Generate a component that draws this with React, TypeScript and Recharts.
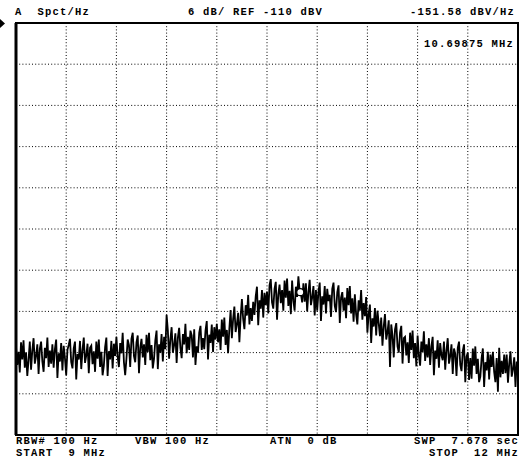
import { LineChart, Line, XAxis, YAxis, CartesianGrid, ReferenceArea, ReferenceLine, ReferenceDot } from 'recharts';

// sweep 9 MHz .. 12 MHz, 401 points, values in dBV/Hz
const startMHz = 9;
const stopMHz = 12;

const traceDb: number[] = [
  -157.1, -159.8, -157.9, -160.9, -156.5, -159.0, -156.2, -160.2, -158.0, -161.4,
  -159.1, -156.4, -160.5, -157.7, -155.9, -159.6, -158.5, -156.8, -161.1, -157.4,
  -156.4, -159.3, -160.8, -157.3, -158.8, -155.8, -160.1, -157.7, -159.6, -156.8,
  -160.2, -157.5, -156.1, -161.7, -158.1, -159.3, -156.6, -160.6, -157.0, -158.8,
  -161.3, -157.6, -156.9, -156.0, -159.4, -160.3, -157.4, -156.4, -161.9, -158.2,
  -159.0, -156.3, -160.4, -157.6, -155.8, -159.5, -158.4, -156.7, -161.0, -157.3,
  -157.0, -159.7, -157.8, -160.8, -156.4, -158.9, -156.1, -160.1, -157.9, -161.3,
  -159.9, -157.2, -155.8, -161.4, -157.8, -159.0, -156.3, -160.3, -156.7, -158.5,
  -155.7, -158.6, -160.1, -156.6, -158.1, -155.1, -159.4, -161.3, -158.9, -156.1,
  -156.9, -160.1, -156.0, -155.1, -158.5, -159.4, -156.5, -155.5, -161.0, -157.3,
  -156.0, -158.7, -156.8, -159.8, -155.4, -157.9, -155.1, -159.1, -156.9, -160.3,
  -158.9, -156.2, -154.8, -160.4, -156.8, -158.0, -155.3, -159.3, -155.7, -157.5,
  -152.5, -154.8, -158.9, -156.1, -154.3, -158.0, -156.9, -155.2, -159.5, -155.8,
  -154.4, -157.3, -158.8, -155.3, -156.8, -153.8, -158.1, -155.7, -157.6, -154.8,
  -155.5, -158.7, -154.6, -159.8, -157.1, -158.0, -155.1, -154.1, -157.6, -155.9,
  -157.5, -154.8, -153.4, -159.0, -155.4, -156.6, -153.9, -157.9, -154.3, -156.1,
  -153.8, -156.5, -154.6, -157.6, -153.2, -155.7, -152.9, -156.9, -154.7, -158.1,
  -154.5, -151.8, -155.9, -153.1, -151.3, -155.0, -153.9, -152.2, -156.5, -152.8,
  -150.2, -153.1, -154.6, -151.1, -152.6, -149.6, -153.9, -151.5, -153.4, -150.6,
  -152.5, -149.8, -148.4, -154.0, -150.4, -151.6, -148.9, -152.9, -149.3, -151.1,
  -149.1, -152.3, -148.2, -147.3, -150.7, -151.6, -148.7, -147.7, -153.2, -149.5,
  -148.1, -150.8, -148.9, -151.9, -147.5, -150.0, -147.2, -151.2, -149.0, -152.4,
  -147.5, -150.4, -151.9, -148.4, -149.9, -146.9, -149.0, -149.4, -150.7, -147.9,
  -150.6, -147.9, -152.0, -149.2, -147.4, -151.1, -150.0, -148.3, -152.6, -148.9,
  -151.9, -149.2, -147.8, -153.4, -149.8, -151.0, -148.3, -152.3, -148.7, -150.5,
  -149.6, -152.8, -148.7, -147.8, -151.2, -152.1, -149.2, -148.2, -153.7, -150.0,
  -149.2, -151.9, -150.0, -153.0, -148.6, -151.1, -148.3, -152.3, -150.1, -153.5,
  -149.5, -152.4, -153.9, -150.4, -151.9, -148.9, -153.2, -150.8, -152.7, -149.9,
  -155.1, -152.4, -151.0, -156.6, -153.0, -154.2, -151.5, -155.5, -151.9, -153.7,
  -155.6, -152.9, -157.0, -154.2, -152.4, -156.1, -155.0, -153.3, -160.1, -153.9,
  -155.5, -158.7, -154.6, -153.7, -157.1, -158.0, -155.1, -154.1, -159.6, -155.9,
  -155.7, -158.4, -156.5, -159.5, -155.1, -157.6, -154.8, -158.8, -156.6, -160.0,
  -155.5, -158.4, -159.9, -156.4, -157.9, -154.9, -159.2, -156.8, -158.7, -155.9,
  -159.8, -157.1, -155.7, -161.3, -157.7, -158.9, -156.2, -160.2, -156.6, -158.4,
  -159.1, -156.4, -160.5, -157.7, -155.9, -159.6, -158.5, -156.8, -161.1, -157.4,
  -158.2, -161.4, -157.3, -156.4, -159.8, -160.7, -157.8, -156.8, -162.3, -158.6,
  -158.0, -162.0, -158.8, -161.8, -157.4, -159.9, -157.1, -161.1, -158.9, -162.3,
  -161.5, -158.8, -157.4, -163.0, -159.4, -160.6, -157.9, -161.9, -158.3, -160.1,
  -157.9, -160.8, -162.3, -158.8, -163.7, -157.3, -161.6, -159.2, -161.1, -158.3,
  -161.0, -158.3, -162.4, -159.6, -157.8, -161.5, -160.4, -158.7, -163.0, -159.3,
  -160.4,
];

const freqTicks = [9, 9.3, 9.6, 9.9, 10.2, 10.5, 10.8, 11.1, 11.4, 11.7, 12];
const dbTicks = [-170, -164, -158, -152, -146, -140, -134, -128, -122, -116, -110];

const markerMHz = 10.69875;
const markerDb = -149.2;

const headerLeft = 'A  Spct/Hz';
const headerMid = '6 dB/ REF -110 dBV';
const headerRight = '-151.58 dBV/Hz';
const markerLabel = '10.69875 MHz';
const footerRow1 = ['RBW# 100 Hz', 'VBW 100 Hz', 'ATN  0 dB', 'SWP  7.678 sec'];
const footerRow2 = ['START  9 MHz', 'STOP  12 MHz'];

const step = (stopMHz - startMHz) / (traceDb.length - 1);
const data = traceDb.map((db, i) => ({ f: startMHz + i * step, db }));

const textStyle = {
  fontFamily: '"Liberation Mono", "DejaVu Sans Mono", monospace',
  fontSize: 10.5,
  letterSpacing: 1.2,
  fontWeight: 700,
  fill: '#000',
  whiteSpace: 'pre' as const,
};

export default function App() {
  return (
    <div style={{ position: 'absolute', left: 0, top: 0, width: 521, height: 462, background: '#fff' }}>
      <LineChart width={521} height={462} data={data} margin={{ top: 23, right: 3, bottom: 27, left: 16 }}>
        <XAxis type="number" dataKey="f" domain={[startMHz, stopMHz]} ticks={freqTicks} hide />
        <YAxis type="number" domain={[-170, -110]} ticks={dbTicks} hide />
        <CartesianGrid stroke="#000" strokeWidth={1} strokeDasharray="1 2.2" />
        <Line
          type="linear"
          dataKey="db"
          stroke="#000"
          strokeWidth={1.8}
          dot={false}
          isAnimationActive={false}
        />
        <ReferenceDot x={markerMHz} y={markerDb} r={3.5} fill="#fff" stroke="#000" strokeWidth={1.2} />
        <ReferenceArea x1={startMHz} x2={stopMHz} y1={-170} y2={-110} fill="none" stroke="#000" strokeWidth={2} />
        <ReferenceLine x={startMHz} stroke="#000" strokeWidth={3} />
      </LineChart>
      <svg width={521} height={462} style={{ position: 'absolute', left: 0, top: 0, pointerEvents: 'none' }}>
        <polygon points="0,19 5,23.5 0,28" fill="#000" />
        <text x={15} y={15} xmlSpace="preserve" style={textStyle}>{headerLeft}</text>
        <text x={188} y={15} xmlSpace="preserve" style={textStyle}>{headerMid}</text>
        <text x={515} y={15} textAnchor="end" xmlSpace="preserve" style={textStyle}>{headerRight}</text>
        <text x={514} y={47} textAnchor="end" xmlSpace="preserve" style={textStyle}>{markerLabel}</text>
        <text x={16} y={444} xmlSpace="preserve" style={textStyle}>{footerRow1[0]}</text>
        <text x={135} y={444} xmlSpace="preserve" style={textStyle}>{footerRow1[1]}</text>
        <text x={270} y={444} xmlSpace="preserve" style={textStyle}>{footerRow1[2]}</text>
        <text x={519} y={444} textAnchor="end" xmlSpace="preserve" style={textStyle}>{footerRow1[3]}</text>
        <text x={16} y={456} xmlSpace="preserve" style={textStyle}>{footerRow2[0]}</text>
        <text x={519} y={456} textAnchor="end" xmlSpace="preserve" style={textStyle}>{footerRow2[1]}</text>
      </svg>
    </div>
  );
}
